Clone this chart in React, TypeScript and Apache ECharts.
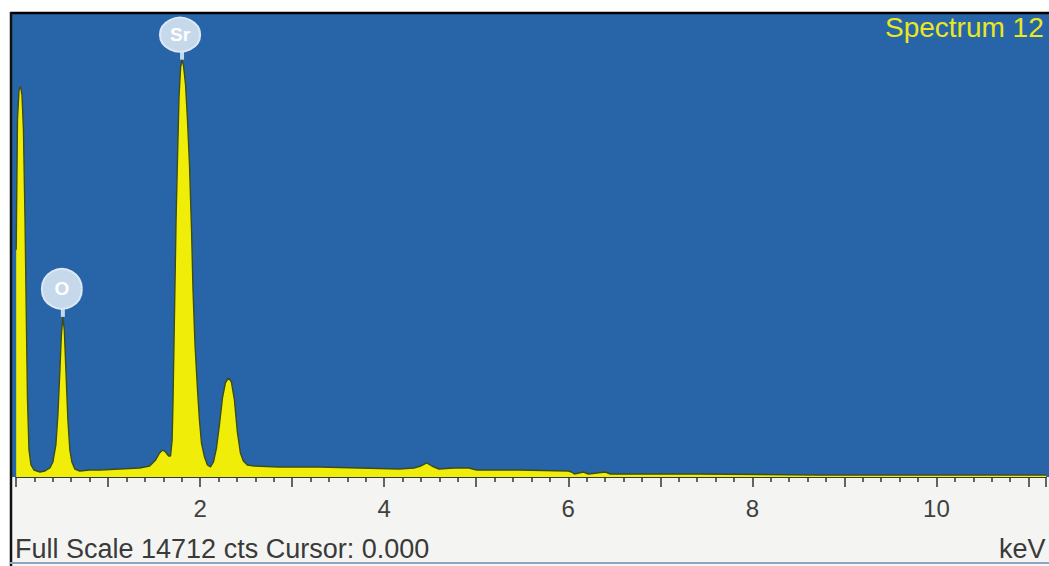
import React, { useEffect, useRef } from "react";
import * as echarts from "echarts";

// Energy (keV) and counts
const energyKeV = [
  0.002, 0.016, 0.033, 0.049, 0.065, 0.081, 0.098, 0.114, 0.125, 0.141, 0.163, 0.195, 0.26, 0.314,
  0.368, 0.401, 0.433, 0.455, 0.477, 0.493, 0.509, 0.525, 0.542, 0.564, 0.585, 0.607, 0.639, 0.693,
  0.802, 0.91, 1.127, 1.343, 1.452, 1.517, 1.56, 1.593, 1.625, 1.658, 1.679,
  1.696, 1.706, 1.717, 1.728, 1.739, 1.755, 1.771, 1.788, 1.804, 1.82, 1.842, 1.863, 1.885, 1.907,
  1.923, 1.945, 1.972, 1.993, 2.015, 2.048, 2.08, 2.113,
  2.145, 2.178, 2.21, 2.243, 2.275, 2.308, 2.34, 2.373, 2.405, 2.438, 2.47, 2.513, 2.589, 2.86,
  3.294, 3.727, 4.16, 4.323, 4.399, 4.463, 4.518, 4.594, 4.756, 4.919, 5.005, 5.46, 6.002, 6.035,
  6.067, 6.165, 6.219, 6.403, 6.457, 7.411, 8.711, 9.577, 10.661, 11.19,
];
const countsCts = [
  7219, 11353, 12307, 12402, 12148, 11035, 8173, 4675, 2448, 859, 382, 223, 159, 191,
  286, 477, 1018, 1972, 3403, 4516, 5088, 4675, 3403, 1813, 859, 477, 254, 191,
  223, 223, 254, 286, 350, 541, 763, 859, 795, 668, 668,
  1177, 2449, 4357, 6265, 8173, 10176, 12084, 13006, 13261, 13070, 12466, 11353, 9922, 7855,
  5947, 4198, 2767, 1813, 1081, 636, 382, 318,
  477, 922, 1654, 2512, 2989, 3148, 3021, 2449, 1431, 763, 509, 382, 350, 318,
  318, 286, 254, 286, 350, 445, 350, 254, 286, 286, 223, 223, 191, 159,
  95, 159, 95, 159, 95, 95, 64, 64, 64, 64,
];
const fullScale = 14712;
const xMax = 11.19;
const peakLabels = [
  { name: "Sr", keV: 1.804, cts: 13261 },
  { name: "O", keV: 0.509, cts: 5088 },
];
const tickLabels = [2, 4, 6, 8, 10];

export default function App() {
  const ref = useRef<HTMLDivElement>(null);
  useEffect(() => {
    if (!ref.current) return;
    const chart = echarts.init(ref.current, undefined, { renderer: "svg" });
    const data = energyKeV.map((e, i) => [e, countsCts[i]]);
    const font = "Liberation Sans";
    chart.setOption({
      animation: false,
      backgroundColor: "#f4f5f3",
      grid: { left: 16, right: 0, top: 14, bottom: 89 },
      xAxis: {
        type: "value",
        min: 0,
        max: xMax,
        interval: 1,
        axisLine: { show: true, lineStyle: { color: "#2e3a46", width: 1 } },
        axisTick: { show: true, length: 10, lineStyle: { color: "#333", width: 1.5 } },
        minorTick: { show: true, splitNumber: 5, length: 5, lineStyle: { color: "#333", width: 1.5 } },
        splitLine: { show: false },
        minorSplitLine: { show: false },
        axisLabel: {
          margin: 19,
          fontSize: 24,
          color: "#404040",
          fontFamily: font,
          formatter: (v: number) => (tickLabels.includes(v) ? String(v) : ""),
        },
      },
      yAxis: { type: "value", min: 0, max: fullScale, show: false, splitLine: { show: false } },
      graphic: [
        { type: "rect", z: -1, shape: { x: 0, y: 0, width: 1049, height: 12 }, style: { fill: "#ffffff" } },
        { type: "rect", z: -1, shape: { x: 0, y: 0, width: 10, height: 566 }, style: { fill: "#ffffff" } },
        { type: "rect", z: -1, shape: { x: 12, y: 14, width: 1037, height: 463 }, style: { fill: "#2864a8" } },
        { type: "line", z: 5, shape: { x1: 10, y1: 13, x2: 1049, y2: 13 }, style: { stroke: "#000", lineWidth: 2.5 } },
        { type: "line", z: 5, shape: { x1: 11, y1: 12, x2: 11, y2: 566 }, style: { stroke: "#111", lineWidth: 2.5 } },
        { type: "line", z: 5, shape: { x1: 10, y1: 563, x2: 1049, y2: 563 }, style: { stroke: "#8ea6c2", lineWidth: 2 } },
        {
          type: "text", z: 10, left: 885, top: 13,
          style: { text: "Spectrum 12", fill: "#e8e81e", fontSize: 28, fontFamily: font },
        },
        {
          type: "text", z: 10, left: 15, top: 535,
          style: { text: "Full Scale 14712 cts Cursor: 0.000", fill: "#3a3a3a", fontSize: 27, fontFamily: font },
        },
        {
          type: "text", z: 10, left: 999, top: 535,
          style: { text: "keV", fill: "#3a3a3a", fontSize: 27, fontFamily: font },
        },
      ],
      series: [
        {
          type: "line",
          data,
          showSymbol: false,
          z: 2,
          lineStyle: { color: "#3b4d1c", width: 1.4 },
          areaStyle: { color: "#f0ee08", opacity: 1 },
          markPoint: {
            silent: true,
            data: peakLabels.flatMap((p) => [
              {
                coord: [p.keV, p.cts],
                symbol: "rect",
                symbolSize: [4, 14],
                symbolOffset: [0, -7],
                itemStyle: { color: "#c6d9ea" },
                label: { show: false },
              },
              {
                coord: [p.keV, p.cts],
                symbol: "circle",
                symbolSize: p.name === "Sr" ? [40, 34] : [40, 40],
                symbolOffset: p.name === "Sr" ? [-2, -25] : [-1, -28],
                itemStyle: { color: "#c6d9ea", borderColor: "#dce8f3", borderWidth: 2 },
                label: {
                  show: true,
                  formatter: p.name,
                  color: "#ffffff",
                  fontSize: 19,
                  fontWeight: "bold",
                  fontFamily: font,
                },
              },
            ]),
          },
        },
      ],
    });
    return () => chart.dispose();
  }, []);
  return (
    <div style={{ position: "fixed", left: 0, top: 0, width: 1049, height: 566 }}>
      <div ref={ref} style={{ width: 1049, height: 566 }} />
    </div>
  );
}
